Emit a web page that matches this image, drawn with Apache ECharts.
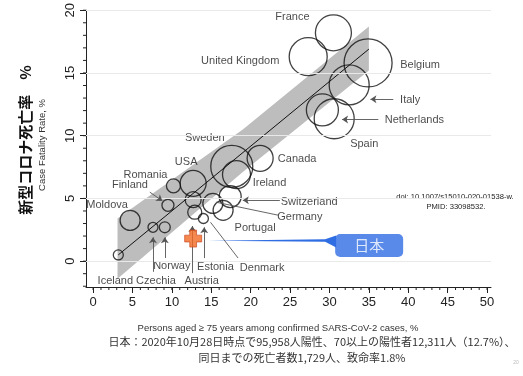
<!DOCTYPE html>
<html><head><meta charset="utf-8">
<script src="https://cdn.jsdelivr.net/npm/echarts@6/dist/echarts.min.js"></script>
<style>html,body{margin:0;padding:0;background:#fff}#chart{width:523px;height:376px}</style>
</head><body><div id="chart"></div>
<script>
// Country-level values: share of cases aged >= 75 (%) vs case fatality rate (%)
const countries = ['France','United Kingdom','Belgium','Italy','Netherlands','Spain','Canada','Sweden','Ireland','USA','Romania','Finland','Moldova','Iceland','Czechia','Norway','Austria','Estonia','Denmark','Germany','Portugal','Switzerland'];
const agedShare = [30.5,27.3,34.9,32.5,29.1,30.6,21.2,17.6,18.2,12.7,10.2,9.5,4.7,3.2,7.6,9.1,12.9,14.0,12.7,15.2,16.5,17.4];
const fatalityRate = [18.2,16.3,15.8,14.05,12.05,11.35,8.2,7.55,6.9,6.2,6.0,4.45,3.25,0.5,2.7,2.7,3.9,3.4,4.9,4.6,4.05,5.15];
const weight = [324,361,576,400,256,400,169,441,196,169,49,36,100,25,25,30,49,25,64,100,100,121];
const japan = [12.7, 1.8];
// Regression line and its confidence band
const fitLine = [[3.2, 0.5], [35.0, 16.9]];
const bandUpper = [[3.1, 3.4], [19, 10.5], [35, 18.7]];
const bandLower = [[3.1, -1.4], [19, 7.1], [35, 15.2]];
const xTicks = [0,5,10,15,20,25,30,35,40,45,50];
const yTicks = [0,5,10,15,20];

// Label placement (pixel offsets from bubble centre)
const labelOffset = {
  'France':[-41,-16],'United Kingdom':[-68,4],'Belgium':[52,2],'Italy':[61,15],
  'Netherlands':[92,10],'Spain':[30,25],'Canada':[37,1],'Sweden':[-27,-28],
  'Ireland':[33,8],'USA':[-7,-21],'Romania':[-28,-11],'Finland':[-38,-20],
  'Moldova':[-23,-15],'Iceland':[-3,26],'Czechia':[3,54],'Norway':[7,39],
  'Austria':[7,69],'Estonia':[12,48],'Denmark':[69,68],'Germany':[87,14],
  'Portugal':[32,18],'Switzerland':[79,5]
};
// Pointer lines in data space: [from, to, arrowhead]
const pointers = [
  [[38.1,12.9],[35.2,12.9],true],
  [[36.2,11.3],[31.6,11.3],true],
  [[23.7,4.85],[19.0,4.85],true],
  [[23.6,3.65],[15.6,4.7],false],
  [[18.4,0.25],[14.9,3.1],false],
  [[7.2,5.5],[8.8,4.8],true],
  [[7.6,-0.85],[7.6,1.9],true],
  [[9.1,0.25],[9.1,1.9],true],
  [[12.6,-0.95],[12.6,2.8],true],
  [[14.1,0.25],[14.1,2.7],true]
];

const FONT = 'Liberation Sans, Arial, sans-serif';
const JP = 'Noto Sans CJK JP, sans-serif';
const minorX = []; for (let i = 0; i <= 50; i++) minorX.push(i);
const minorY = []; for (let i = -2; i <= 20; i++) minorY.push(i);

const bubbles = countries.map((c, i) => ({
  name: c,
  value: [agedShare[i], fatalityRate[i], weight[i]],
  label: { offset: labelOffset[c] }
}));

const chart = echarts.init(document.getElementById('chart'), null, { renderer: 'canvas' });
const xRange = { min: -0.9, max: 50.5 };
const yRange = { min: -2.06, max: 20 };

// short outward tick marks along both axes, one per unit
function minorTicks(params, api) {
  const children = [];
  minorX.forEach(v => {
    const p = api.coord([v, yRange.min]);
    children.push({ type: 'line', shape: { x1: p[0], y1: p[1], x2: p[0], y2: p[1] + 3 }, style: { stroke: '#222', lineWidth: 1 } });
  });
  minorY.forEach(v => {
    const p = api.coord([xRange.min, v]);
    children.push({ type: 'line', shape: { x1: p[0], y1: p[1], x2: p[0] - 3, y2: p[1] }, style: { stroke: '#222', lineWidth: 1 } });
  });
  return { type: 'group', children };
}

chart.setOption({
  animation: false,
  backgroundColor: '#fff',
  grid: { left: 86, right: 32, top: 9, bottom: 89 },
  xAxis: {
    type: 'value', ...xRange, position: 'bottom',
    axisLine: { show: true, onZero: false, lineStyle: { color: '#222', width: 1 } },
    axisTick: { show: true, customValues: xTicks, length: 6, lineStyle: { color: '#222' } },
    axisLabel: { customValues: xTicks, color: '#222', fontSize: 13, fontFamily: FONT, margin: 9 },
    splitLine: { show: false }
  },
  yAxis: {
    type: 'value', ...yRange, position: 'left',
    axisLine: { show: true, onZero: false, lineStyle: { color: '#222', width: 1 } },
    axisTick: { show: true, customValues: yTicks, length: 6, lineStyle: { color: '#222' } },
    axisLabel: { customValues: yTicks, rotate: 90, color: '#222', fontSize: 13, fontFamily: FONT, margin: 9 },
    splitLine: { show: false }
  },
  series: [
    {
      // light horizontal gridlines
      type: 'line', data: [], silent: true,
      markLine: {
        silent: true, symbol: 'none', label: { show: false },
        lineStyle: { color: '#e9e9e9', width: 1, type: 'solid' },
        data: yTicks.map(v => ({ yAxis: v }))
      }
    },
    {
      type: 'custom', silent: true, clip: false, z: 0,
      data: [0], renderItem: minorTicks
    },
    {
      type: 'custom', silent: true, z: 1,
      data: [0],
      renderItem: (params, api) => {
        const pts = bandUpper.map(p => api.coord(p))
          .concat(bandLower.slice().reverse().map(p => api.coord(p)));
        return { type: 'polygon', shape: { points: pts }, style: { fill: '#bdbdbd' } };
      }
    },
    {
      type: 'line', data: fitLine, symbol: 'none', z: 2, silent: true,
      lineStyle: { color: '#111', width: 1 }
    },
    {
      type: 'scatter', data: bubbles, z: 3,
      symbolSize: v => 2 * Math.sqrt(v[2]),
      itemStyle: { color: 'rgba(0,0,0,0)', borderColor: '#111', borderWidth: 1.3 },
      label: {
        show: true, position: 'inside', formatter: p => p.name,
        color: '#1a1a1a', fontSize: 11, fontFamily: FONT
      },
      markLine: {
        silent: true, symbolSize: 6, label: { show: false },
        lineStyle: { color: '#555', width: 0.9, type: 'solid' },
        data: pointers.map(p => [
          { coord: p[0], symbol: 'none' },
          { coord: p[1], symbol: p[2] ? 'arrow' : 'none' }
        ])
      }
    },
    {
      type: 'scatter', data: [japan], z: 5,
      symbol: 'path://M3,0H7V3H10V7H7V10H3V7H0V3H3Z', symbolSize: 17,
      itemStyle: { color: '#f26a22', borderColor: '#c8401a', borderWidth: 0.8 },
      label: {
        show: true, position: 'inside', formatter: '日本', offset: [176, 7],
        color: '#fff', fontSize: 15, fontFamily: JP,
        backgroundColor: '#2f6de3', borderRadius: 5,
        width: 68, height: 23, lineHeight: 23, align: 'center', verticalAlign: 'middle'
      }
    }
  ]
});

// Callout pointer from the Japan marker to its label box
const jp = chart.convertToPixel({ gridIndex: 0 }, japan);
chart.setOption({
  graphic: [
    {
      type: 'polygon', z: 4, silent: true,
      shape: { points: [
        [jp[0] + 15, jp[1] + 2.2], [jp[0] + 132, jp[1] + 0.8], [jp[0] + 143, jp[1] - 3],
        [jp[0] + 143, jp[1] + 9], [jp[0] + 132, jp[1] + 3.2]
      ] },
      style: { fill: '#2f6de3' }
    },
    {
      type: 'text', x: 25, y: 140, rotation: Math.PI / 2, silent: true,
      style: { text: '新型コロナ死亡率　%', fill: '#111', font: 'bold 15px "Noto Sans CJK JP"', align: 'center', verticalAlign: 'middle' }
    },
    {
      type: 'text', x: 42, y: 145, rotation: Math.PI / 2, silent: true,
      style: { text: 'Case Fatality Rate, %', fill: '#333', font: '9.5px "Liberation Sans", Arial', align: 'center', verticalAlign: 'middle' }
    },
    {
      type: 'text', x: 278, y: 328, silent: true,
      style: { text: 'Persons aged ≥ 75 years among confirmed SARS-CoV-2 cases, %', fill: '#333', font: '9.5px "Liberation Sans", Arial', align: 'center', verticalAlign: 'middle' }
    },
    {
      type: 'text', x: 455, y: 197, silent: true,
      style: { text: 'doi: 10.1007/s15010-020-01538-w.', fill: '#222', font: '7.6px "Liberation Sans", Arial', align: 'center', verticalAlign: 'middle' }
    },
    {
      type: 'text', x: 456, y: 207, silent: true,
      style: { text: 'PMID: 33098532.', fill: '#222', font: '7.6px "Liberation Sans", Arial', align: 'center', verticalAlign: 'middle' }
    },
    {
      type: 'text', x: 312, y: 342, silent: true,
      style: { text: '日本：2020年10月28日時点で95,958人陽性、70以上の陽性者12,311人（12.7%）、', fill: '#333', font: '11px "Noto Sans CJK JP"', align: 'center', verticalAlign: 'middle' }
    },
    {
      type: 'text', x: 302, y: 358, silent: true,
      style: { text: '同日までの死亡者数1,729人、致命率1.8%', fill: '#333', font: '11px "Noto Sans CJK JP"', align: 'center', verticalAlign: 'middle' }
    },
    {
      type: 'text', x: 516, y: 363, silent: true,
      style: { text: '20', fill: '#bbb', font: '5px "Liberation Sans", Arial', align: 'center', verticalAlign: 'middle' }
    }
  ]
});
</script>
</body></html>
